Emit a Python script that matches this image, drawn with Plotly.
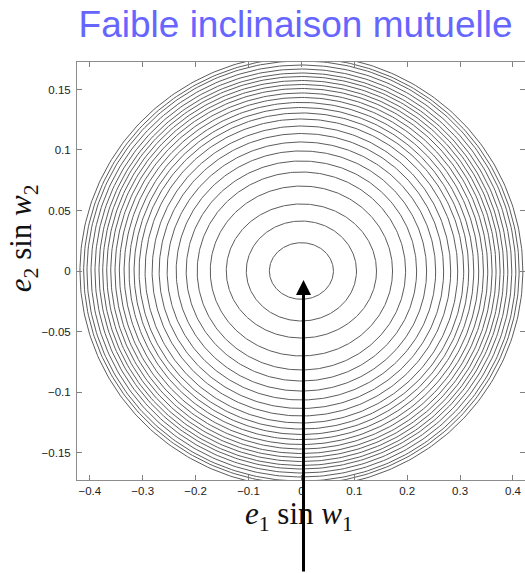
import numpy as np
import plotly.graph_objects as go

# Semi-axes of the level curves (x half-width, y half-height), innermost first
semi_x = [0.0606, 0.1042, 0.1420, 0.1723, 0.1970, 0.2178, 0.2367, 0.2538, 0.2689,
          0.2822, 0.2955, 0.3068, 0.3163, 0.3258, 0.3352, 0.3441, 0.3523, 0.3604,
          0.3680, 0.3756, 0.3826, 0.3902, 0.3977, 0.4053, 0.4116, 0.4186]
semi_y = [0.0234, 0.0413, 0.0554, 0.0702, 0.0818, 0.0909, 0.0992, 0.1066, 0.1136,
          0.1198, 0.1256, 0.1306, 0.1351, 0.1393, 0.1434, 0.1471, 0.1508, 0.1541,
          0.1574, 0.1607, 0.1636, 0.1669, 0.1702, 0.1736, 0.1760, 0.1789]

x_ticks = [-0.4, -0.3, -0.2, -0.1, 0, 0.1, 0.2, 0.3, 0.4]
x_ticktext = ["\u22120.4", "\u22120.3", "\u22120.2", "\u22120.1", "0", "0.1", "0.2", "0.3", "0.4"]
y_ticks = [-0.15, -0.1, -0.05, 0, 0.05, 0.1, 0.15]
y_ticktext = ["\u22120.15", "\u22120.1", "\u22120.05", "0", "0.05", "0.1", "0.15"]

title_text = "Faible inclinaison mutuelle"
x_title = "<i>e</i><sub>1</sub> sin <i>w</i><sub>1</sub>"
y_title = "<i>e</i><sub>2</sub> sin <i>w</i><sub>2</sub>"

# Build all closed curves as one trace separated by gaps
t = np.linspace(0, 2 * np.pi, 361)
xs, ys = [], []
for a, b in zip(semi_x, semi_y):
    xs.extend(list(a * np.cos(t)) + [None])
    ys.extend(list(b * np.sin(t)) + [None])

fig = go.Figure()
fig.add_trace(go.Scatter(
    x=xs, y=ys, mode="lines",
    line=dict(color="#5c5c5c", width=1),
    hoverinfo="skip", showlegend=False,
))

axis_common = dict(
    ticks="inside", ticklen=5, tickcolor="#808080", tickwidth=1,
    showline=True, linecolor="#8c8c8c", linewidth=1, mirror="ticks",
    showgrid=False, zeroline=False,
    tickfont=dict(family="Liberation Sans, Arial, sans-serif", size=11.5, color="#222222"),
)

fig.update_layout(
    width=525, height=573,
    margin=dict(l=77, r=0, t=62, b=93),
    paper_bgcolor="white", plot_bgcolor="white",
    title=dict(
        text=title_text, x=0.563, xanchor="center", y=0.958, yanchor="middle",
        font=dict(family="Liberation Sans, Arial, sans-serif", size=37, color="#6666ff"),
    ),
    xaxis=dict(range=[-0.4242, 0.4227], tickvals=x_ticks, ticktext=x_ticktext, **axis_common),
    yaxis=dict(range=[-0.1727, 0.1727], tickvals=y_ticks, ticktext=y_ticktext,
               ticklabelstandoff=3, **axis_common),
    annotations=[
        dict(text=x_title, xref="paper", yref="paper", x=0.4955, y=-0.086,
             xanchor="center", yanchor="middle", showarrow=False,
             font=dict(family="Liberation Serif, Times New Roman, serif", size=31, color="#111111")),
        dict(text=y_title, xref="paper", yref="paper", x=-0.12, y=0.579,
             xanchor="center", yanchor="middle", showarrow=False, textangle=-90,
             font=dict(family="Liberation Serif, Times New Roman, serif", size=31, color="#111111")),
        # pointer to the centre of the level curves
        dict(text="", x=0.004, y=-0.0075, xref="x", yref="y",
             showarrow=True, ax=0, ay=300, axref="pixel", ayref="pixel",
             arrowhead=2, arrowsize=1, arrowwidth=3, arrowcolor="black", standoff=0),
    ],
)

fig.write_html("out.html")
